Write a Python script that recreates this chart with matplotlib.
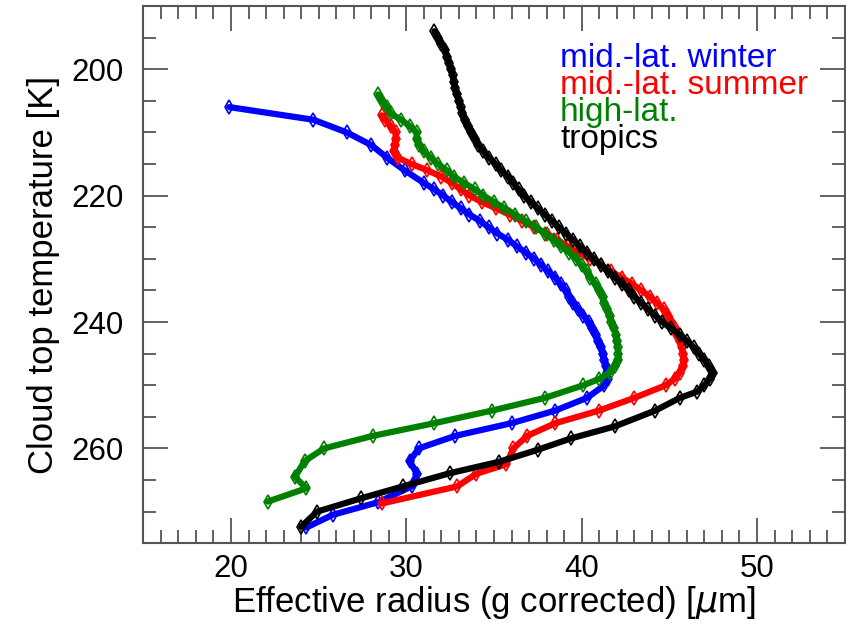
import matplotlib
matplotlib.use("Agg")
import matplotlib.pyplot as plt
from matplotlib.ticker import MultipleLocator

plt.rcParams['font.family'] = ['Liberation Sans', 'DejaVu Sans']

# cloud top temperature [K] and effective radius [um] per regime
t_winter = [206, 208, 210, 212, 214, 216, 218, 219, 220, 221, 222, 223, 224, 225, 226, 227, 228,
            229, 230, 231, 232, 233, 234, 235, 236, 237, 238, 239, 240, 241, 242, 243, 244, 245,
            246, 247, 248, 249, 250, 252, 254, 256, 258, 260, 262, 264, 266, 268.5, 270.5, 272.5]
r_winter = [19.9, 24.7, 26.6, 28.0, 28.9, 29.9, 31.0, 31.6, 32.1, 32.6, 33.1, 33.6, 34.2, 34.7,
            35.2, 35.8, 36.3, 36.8, 37.3, 37.7, 38.1, 38.5, 38.8, 39.1, 39.3, 39.5, 39.8, 40.1,
            40.4, 40.6, 40.8, 40.95, 41.1, 41.2, 41.3, 41.4, 41.45, 41.5, 41.3, 40.3, 38.5, 36.0,
            32.8, 30.7, 30.2, 30.6, 30.3, 28.4, 25.8, 24.3]

t_summer = [207.3, 208, 209, 210, 211, 212, 213, 214, 215, 216, 217, 218, 219, 220, 221, 222, 223,
            224, 225, 226, 227, 228, 229, 230, 231, 232, 233, 234, 235, 236, 237, 238, 239, 240,
            241, 242, 243, 244, 245, 246, 247, 248, 249, 250, 252, 254, 256, 258, 260, 262.5,
            264, 266, 268.7]
r_summer = [28.6, 28.8, 29.1, 29.4, 29.4, 29.35, 29.3, 29.5, 30.3, 31.2, 32.0, 32.6, 33.1, 33.6,
            34.3, 35.1, 35.9, 36.6, 37.3, 38.0, 38.6, 39.2, 39.8, 40.5, 41.1, 41.7, 42.3, 42.9,
            43.4, 43.9, 44.3, 44.7, 44.95, 45.1, 45.3, 45.45, 45.6, 45.7, 45.8, 45.85, 45.8, 45.6,
            45.3, 44.8, 43.0, 41.0, 38.5, 36.9, 36.1, 35.7, 34.0, 32.9, 28.6]

t_high = [204, 205, 206, 207, 208, 209, 210, 211, 212, 213, 214, 215, 216, 217, 218, 219, 220, 221,
          222, 223, 224, 225, 226, 227, 228, 229, 230, 231, 232, 233, 234, 235, 236, 237, 238, 239,
          240, 241, 242, 243, 244, 245, 246, 247, 248, 249, 250, 252, 254, 256, 258, 260, 262,
          264.5, 266.3, 268.4]
r_high = [28.4, 28.6, 28.9, 29.1, 29.7, 30.2, 30.6, 30.6, 30.75, 31.0, 31.4, 31.8, 32.3, 32.7, 33.3,
          33.9, 34.4, 35.0, 35.6, 36.2, 36.8, 37.4, 37.9, 38.4, 38.8, 39.3, 39.7, 40.0, 40.3, 40.5,
          40.8, 41.0, 41.2, 41.3, 41.45, 41.6, 41.7, 41.85, 41.95, 42.0, 42.05, 42.1, 42.1, 41.9,
          41.6, 41.0, 40.1, 37.9, 34.9, 31.6, 28.1, 25.3, 24.2, 23.65, 24.3, 22.1]

t_tropics = [194, 195, 196, 197, 198, 199, 200, 201, 202, 203, 204, 205, 206, 207, 208, 209, 210,
             211, 212, 213, 214, 215, 216, 217, 218, 219, 220, 221, 222, 223, 224, 225, 226, 227,
             228, 229, 230, 231, 232, 233, 234, 235, 236, 237, 238, 239, 240, 241, 242, 243, 244,
             245, 246, 247, 248, 249, 250, 251, 252, 254, 256.5, 258.4, 260.2, 262.1, 263.9, 266,
             267.9, 270, 272.4]
r_tropics = [31.6, 31.8, 32.0, 32.2, 32.3, 32.45, 32.55, 32.65, 32.7, 32.8, 32.9, 33.0, 33.1, 33.2,
             33.35, 33.5, 33.7, 33.9, 34.1, 34.4, 34.7, 35.1, 35.4, 35.8, 36.1, 36.4, 36.7, 37.1,
             37.5, 37.9, 38.3, 38.7, 39.1, 39.5, 39.9, 40.3, 40.7, 41.1, 41.5, 41.9, 42.3, 42.7,
             43.0, 43.4, 43.8, 44.2, 44.6, 45.1, 45.6, 46.0, 46.4, 46.7, 47.0, 47.25, 47.5, 47.3,
             47.0, 46.6, 45.6, 44.2, 41.9, 39.4, 37.5, 35.3, 32.5, 29.8, 27.4, 24.9, 24.0]

labels = ['mid.-lat. winter', 'mid.-lat. summer', 'high-lat.', 'tropics']
colors = ['#0000ff', '#ff0000', '#008000', '#000000']

fig = plt.figure(figsize=(8.46, 6.27), dpi=100)
ax = fig.add_axes([0.1694, 0.1335, 0.829, 0.857])

series = [(r_winter, t_winter), (r_summer, t_summer), (r_high, t_high), (r_tropics, t_tropics)]
for (r, t), c in zip(series, colors):
    ax.plot(r, t, color=c, lw=4.5, marker='d', ms=7, mfc='none', mec=c, mew=1.2,
            solid_joinstyle='round', solid_capstyle='round')

ax.set_xlim(15, 55)
ax.set_ylim(275, 190)
ax.xaxis.set_major_locator(MultipleLocator(10))
ax.xaxis.set_minor_locator(MultipleLocator(1))
ax.yaxis.set_major_locator(MultipleLocator(20))
ax.yaxis.set_minor_locator(MultipleLocator(5))
ax.set_xticks([20, 30, 40, 50])
ax.set_yticks([200, 220, 240, 260])

edge = '#555555'
for s in ax.spines.values():
    s.set_color(edge)
    s.set_linewidth(1.5)
ax.tick_params(which='both', direction='in', top=True, right=True, color=edge, width=1.3,
               labelsize=22.5)
ax.tick_params(which='major', length=18)
ax.tick_params(which='minor', length=9.5)
ax.tick_params(axis='x', pad=8)
ax.tick_params(axis='y', pad=14)

ax.set_xlabel(r'Effective radius (g corrected) [$\mu$m]', fontsize=25, labelpad=0)
ax.set_ylabel('Cloud top temperature [K]', fontsize=25, labelpad=8)

ybase = [199.6, 203.95, 208.15, 212.5]
for lab, c, yb in zip(labels, colors, ybase):
    ax.text(38.77, yb, lab, color=c, fontsize=24, va='baseline', ha='left')

fig.savefig('out.png', dpi=100)
